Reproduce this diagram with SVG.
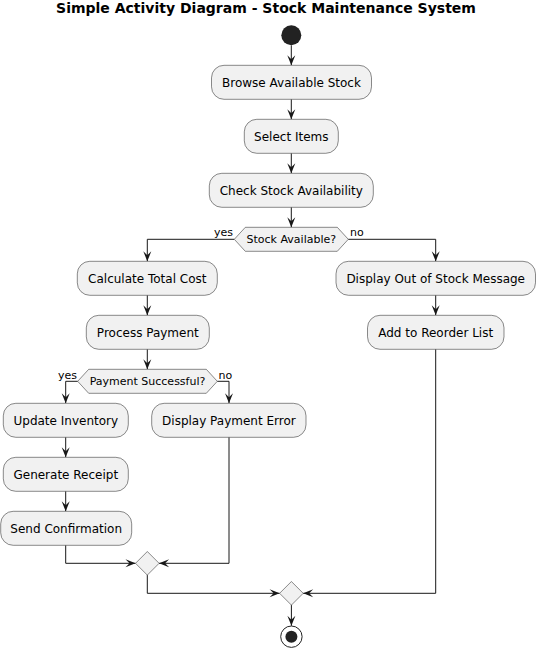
<svg xmlns="http://www.w3.org/2000/svg" width="536" height="648" viewBox="0 0 536 648">
<style>
.box{fill:#F1F1F1;stroke:#181818;stroke-width:0.5}
.dia{fill:#F1F1F1;stroke:#181818;stroke-width:0.5}
.t{font-family:"DejaVu Sans","Liberation Sans",sans-serif;font-size:12px;fill:#000;text-anchor:middle}
.d{font-family:"DejaVu Sans","Liberation Sans",sans-serif;font-size:11px;fill:#000;text-anchor:middle}
.l{font-family:"DejaVu Sans","Liberation Sans",sans-serif;font-size:11px;fill:#000}
.title{font-family:"DejaVu Sans","Liberation Sans",sans-serif;font-size:14px;font-weight:bold;fill:#000;text-anchor:middle}
.c{fill:none;stroke:#181818;stroke-width:1;marker-end:url(#ah)}
</style>
<defs>
<marker id="ah" viewBox="-11 -5 12 10" refX="0" refY="0" markerWidth="12" markerHeight="10" markerUnits="userSpaceOnUse" orient="auto">
<path d="M0,0 L-10,-4 L-6,0 L-10,4 Z" fill="#181818"/>
</marker>
</defs>
<text class="title" x="266" y="12.5">Simple Activity Diagram - Stock Maintenance System</text>

<g id="connectors">
<path class="c" d="M291.3,45.3 V65.3"/>
<path class="c" d="M291.3,99.3 V119.3"/>
<path class="c" d="M291.3,153.3 V173.3"/>
<path class="c" d="M291.3,207.3 V227.3"/>
<path class="c" d="M234.3,239.3 H147.3 V261.3"/>
<path class="c" d="M348.3,239.3 H435.7 V261.3"/>
<path class="c" d="M147.3,295.3 V315.3"/>
<path class="c" d="M435.7,295.3 V315.3"/>
<path class="c" d="M147.3,349.3 V369.3"/>
<path class="c" d="M77.7,381.3 H65.7 V403.3"/>
<path class="c" d="M217.3,381.3 H229 V403.3"/>
<path class="c" d="M65.7,437.3 V457.3"/>
<path class="c" d="M65.7,491.3 V511.3"/>
<path class="c" d="M65.7,545.3 V563.3 H135.5"/>
<path class="c" d="M229,437.3 V563.3 H159.1"/>
<path class="c" d="M147.3,575.1 V593.3 H279.6"/>
<path class="c" d="M435.7,349.3 V593.3 H303.2"/>
<path class="c" d="M291.4,605.1 V625.8"/>
<text class="l" x="233" y="236" text-anchor="end">yes</text>
<text class="l" x="350" y="236">no</text>
<text class="l" x="77" y="378.5" text-anchor="end">yes</text>
<text class="l" x="218.5" y="378.5">no</text>
</g>

<g id="start"><circle cx="291.3" cy="35.3" r="10" fill="#222222"/></g>

<g id="browse"><rect class="box" x="211.5" y="65.3" width="160" height="34" rx="12.5"/><text class="t" x="291.5" y="86.7">Browse Available Stock</text></g>
<g id="select"><rect class="box" x="244.3" y="119.3" width="94" height="34" rx="12.5"/><text class="t" x="291.3" y="140.7">Select Items</text></g>
<g id="check"><rect class="box" x="209.3" y="173.3" width="164" height="34" rx="12.5"/><text class="t" x="291.3" y="194.7">Check Stock Availability</text></g>
<g id="stockAvailable"><polygon class="dia" points="234.3,239.3 245.3,227.3 337.3,227.3 348.3,239.3 337.3,251.3 245.3,251.3"/><text class="d" x="291.3" y="243.2">Stock Available?</text></g>
<g id="calc"><rect class="box" x="77.3" y="261.3" width="140" height="34" rx="12.5"/><text class="t" x="147.3" y="282.7">Calculate Total Cost</text></g>
<g id="outOfStock"><rect class="box" x="336" y="261.3" width="199.5" height="34" rx="12.5"/><text class="t" x="435.7" y="282.7">Display Out of Stock Message</text></g>
<g id="process"><rect class="box" x="86.3" y="315.3" width="123" height="34" rx="12.5"/><text class="t" x="147.8" y="336.7">Process Payment</text></g>
<g id="reorder"><rect class="box" x="367.5" y="315.3" width="136.5" height="34" rx="12.5"/><text class="t" x="435.7" y="336.7">Add to Reorder List</text></g>
<g id="paymentSuccessful"><polygon class="dia" points="77.7,381.3 88.7,369.3 206.3,369.3 217.3,381.3 206.3,393.3 88.7,393.3"/><text class="d" x="147.5" y="385.2">Payment Successful?</text></g>
<g id="update"><rect class="box" x="3.3" y="403.3" width="125" height="34" rx="12.5"/><text class="t" x="65.8" y="424.7">Update Inventory</text></g>
<g id="paymentError"><rect class="box" x="151.7" y="403.3" width="154.3" height="34" rx="12.5"/><text class="t" x="228.9" y="424.7">Display Payment Error</text></g>
<g id="receipt"><rect class="box" x="3.3" y="457.3" width="125" height="34" rx="12.5"/><text class="t" x="65.8" y="478.7">Generate Receipt</text></g>
<g id="confirm"><rect class="box" x="0.7" y="511.3" width="131" height="34" rx="12.5"/><text class="t" x="66.2" y="532.7">Send Confirmation</text></g>
<g id="merge1"><polygon class="dia" points="147.3,551.5 159.1,563.3 147.3,575.1 135.5,563.3"/></g>
<g id="merge2"><polygon class="dia" points="291.4,581.5 303.2,593.3 291.4,605.1 279.6,593.3"/></g>
<g id="end"><circle cx="291.4" cy="636.7" r="10.7" fill="none" stroke="#222222" stroke-width="1"/><circle cx="291.4" cy="636.7" r="6" fill="#222222"/></g>
</svg>
